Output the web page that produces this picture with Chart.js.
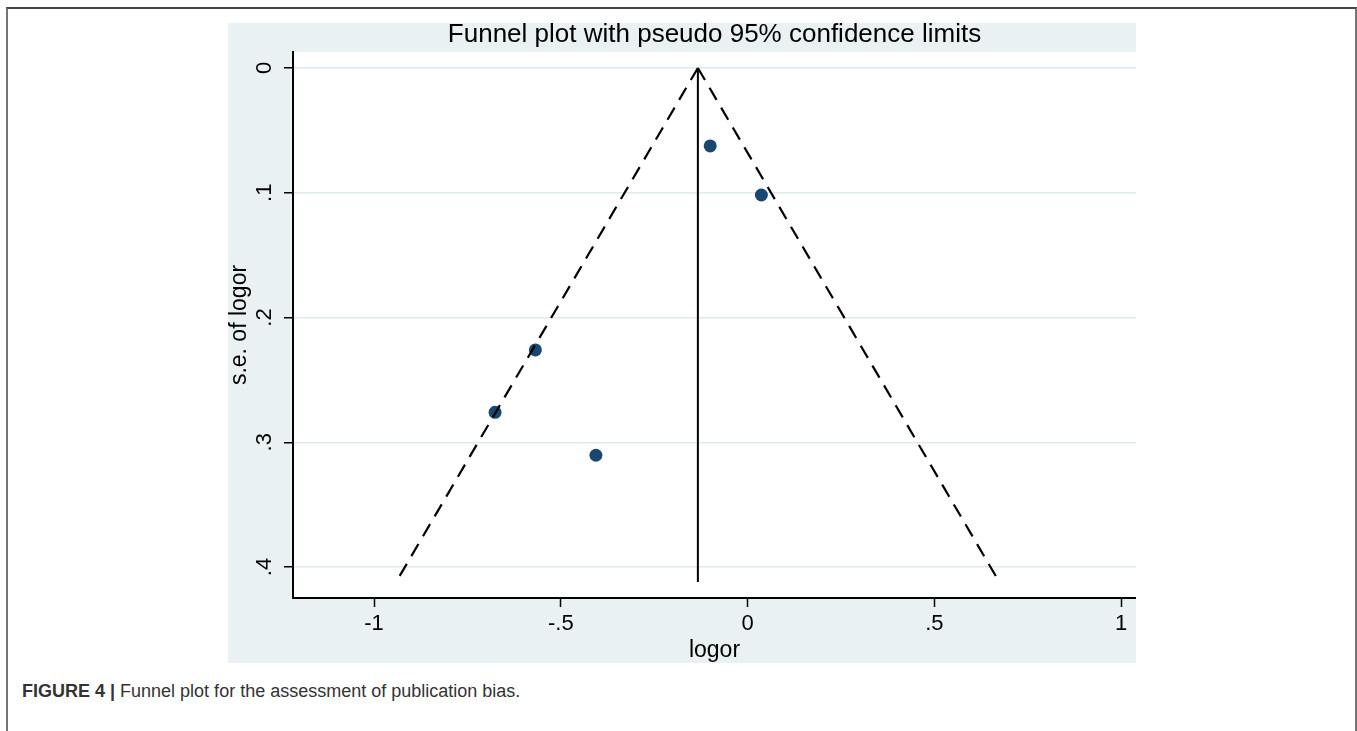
<!DOCTYPE html>
<html>
<head>
<meta charset="utf-8">
<title>Funnel plot</title>
<script src="https://cdn.jsdelivr.net/npm/chart.js@4.4.1/dist/chart.umd.min.js"></script>
<style>
  body { margin: 0; background: #fff; width: 1357px; height: 731px; overflow: hidden; position: relative;
         font-family: "Liberation Sans", Arial, sans-serif; }
  #frame { position: absolute; left: 6px; top: 7px; width: 1347px; height: 760px;
           border: 2px solid #747474; border-top-color: #444; border-bottom: none; }
  #wrap { position: absolute; left: 228px; top: 23px; width: 908px; height: 640px; }
  #caption { position: absolute; left: 22px; top: 681px; font-size: 18px; color: #333; }
</style>
</head>
<body>
<div id="frame"></div>
<div id="wrap"><canvas id="funnel" width="908" height="640"></canvas></div>
<div id="caption"><b>FIGURE 4 |</b> Funnel plot for the assessment of publication bias.</div>
<script>
// values
var titleText = 'Funnel plot with pseudo 95% confidence limits'
var seTicks = [0, 0.1, 0.2, 0.3, 0.4]
var seTickLabels = ['0', '.1', '.2', '.3', '.4']
var logorTicks = [-1, -0.5, 0, 0.5, 1]
var logorTickLabels = ['-1', '-.5', '0', '.5', '1']

var studyLogor = [-0.100, 0.037, -0.568, -0.676, -0.406]
var studySe = [0.0625, 0.1018, 0.226, 0.276, 0.3104]

var pooledLogor = -0.133
var seMax = 0.412
var lowerLimitEnd = -0.941
var upperLimitEnd = 0.674

var navy = '#1a476f'
var fontFam = '"Liberation Sans", Arial, sans-serif'

var studies = studyLogor.map((x, i) => ({x: x, y: studySe[i]}))

// white plot region on the bluish gray graph region, plus title and rotated y labels
var stataLook = {
  id: 'stataLook',
  beforeDraw: function(chart) {
    var ctx = chart.ctx, a = chart.chartArea
    ctx.save()
    ctx.fillStyle = '#eaf1f3'
    ctx.fillRect(0, 0, chart.width, chart.height)
    ctx.fillStyle = '#fff'
    ctx.fillRect(a.left, a.top, a.right - a.left, a.bottom - a.top)
    ctx.restore()
  },
  afterDraw: function(chart) {
    var ctx = chart.ctx, a = chart.chartArea, ys = chart.scales.y
    ctx.save()
    ctx.fillStyle = '#000'
    ctx.textAlign = 'center'
    ctx.font = '26px ' + fontFam
    ctx.textBaseline = 'alphabetic'
    ctx.fillText(titleText, (a.left + a.right) / 2, 19)

    ctx.font = '22px ' + fontFam
    ctx.textBaseline = 'middle'
    seTicks.forEach(function(v, i) {
      ctx.save()
      ctx.translate(37, ys.getPixelForValue(v))
      ctx.rotate(-Math.PI / 2)
      ctx.fillText(seTickLabels[i], 0, 0)
      ctx.restore()
    })
    ctx.restore()
  }
}

var ctx = document.getElementById('funnel').getContext('2d')

var chart = new Chart(ctx, {
  type: 'scatter',
  data: {
    datasets: [{
      label: 'pooled',
      data: [{x: pooledLogor, y: 0}, {x: pooledLogor, y: seMax}],
      showLine: true,
      borderColor: '#000',
      borderWidth: 2,
      pointRadius: 0
    }, {
      label: 'lower limit',
      data: [{x: pooledLogor, y: 0}, {x: lowerLimitEnd, y: seMax}],
      showLine: true,
      borderColor: '#000',
      borderWidth: 2.2,
      borderDash: [14, 9],
      pointRadius: 0
    }, {
      label: 'upper limit',
      data: [{x: pooledLogor, y: 0}, {x: upperLimitEnd, y: seMax}],
      showLine: true,
      borderColor: '#000',
      borderWidth: 2.2,
      borderDash: [14, 9],
      pointRadius: 0
    }, {
      label: 'studies',
      data: studies,
      backgroundColor: navy,
      borderColor: navy,
      borderWidth: 0,
      pointRadius: 6.5
    }]
  },
  options: {
    responsive: false,
    animation: false,
    devicePixelRatio: 1,
    layout: { autoPadding: false, padding: { top: 29, left: 0, right: 0, bottom: 0 } },
    plugins: {
      legend: { display: false },
      tooltip: { enabled: false }
    },
    scales: {
      x: {
        type: 'linear',
        min: -1.217,
        max: 1.04,
        afterBuildTicks: function(s) { s.ticks = logorTicks.map(v => ({value: v})) },
        afterFit: function(s) { s.height = 65; s.paddingLeft = 0; s.paddingRight = 0 },
        ticks: {
          callback: function(v, i) { return logorTickLabels[i] },
          color: '#000',
          font: { family: fontFam, size: 22 },
          padding: 4,
          maxRotation: 0,
          autoSkip: false
        },
        grid: { drawOnChartArea: false, tickColor: '#000', tickLength: 9, tickWidth: 1.5 },
        border: { color: '#000', width: 2 },
        title: {
          display: true,
          text: 'logor',
          color: '#000',
          font: { family: fontFam, size: 23, lineHeight: 1 },
          padding: { top: 0, bottom: 0.5 }
        }
      },
      y: {
        type: 'linear',
        reverse: true,
        min: -0.0128,
        max: 0.4248,
        afterBuildTicks: function(s) { s.ticks = seTicks.map(v => ({value: v})) },
        afterFit: function(s) { s.width = 65; s.paddingTop = 0; s.paddingBottom = 0 },
        ticks: {
          callback: function(v, i) { return seTickLabels[i] },
          color: 'rgba(0,0,0,0)',
          font: { family: fontFam, size: 22 }
        },
        grid: { color: '#dfeaee', lineWidth: 1.5, tickColor: '#000', tickLength: 9, tickWidth: 1.5 },
        border: { color: '#000', width: 2 },
        title: {
          display: true,
          text: 's.e. of logor',
          color: '#000',
          font: { family: fontFam, size: 23, lineHeight: 1 },
          padding: { top: 0.5, bottom: 0 }
        }
      }
    }
  },
  plugins: [stataLook]
})
</script>
</body>
</html>
